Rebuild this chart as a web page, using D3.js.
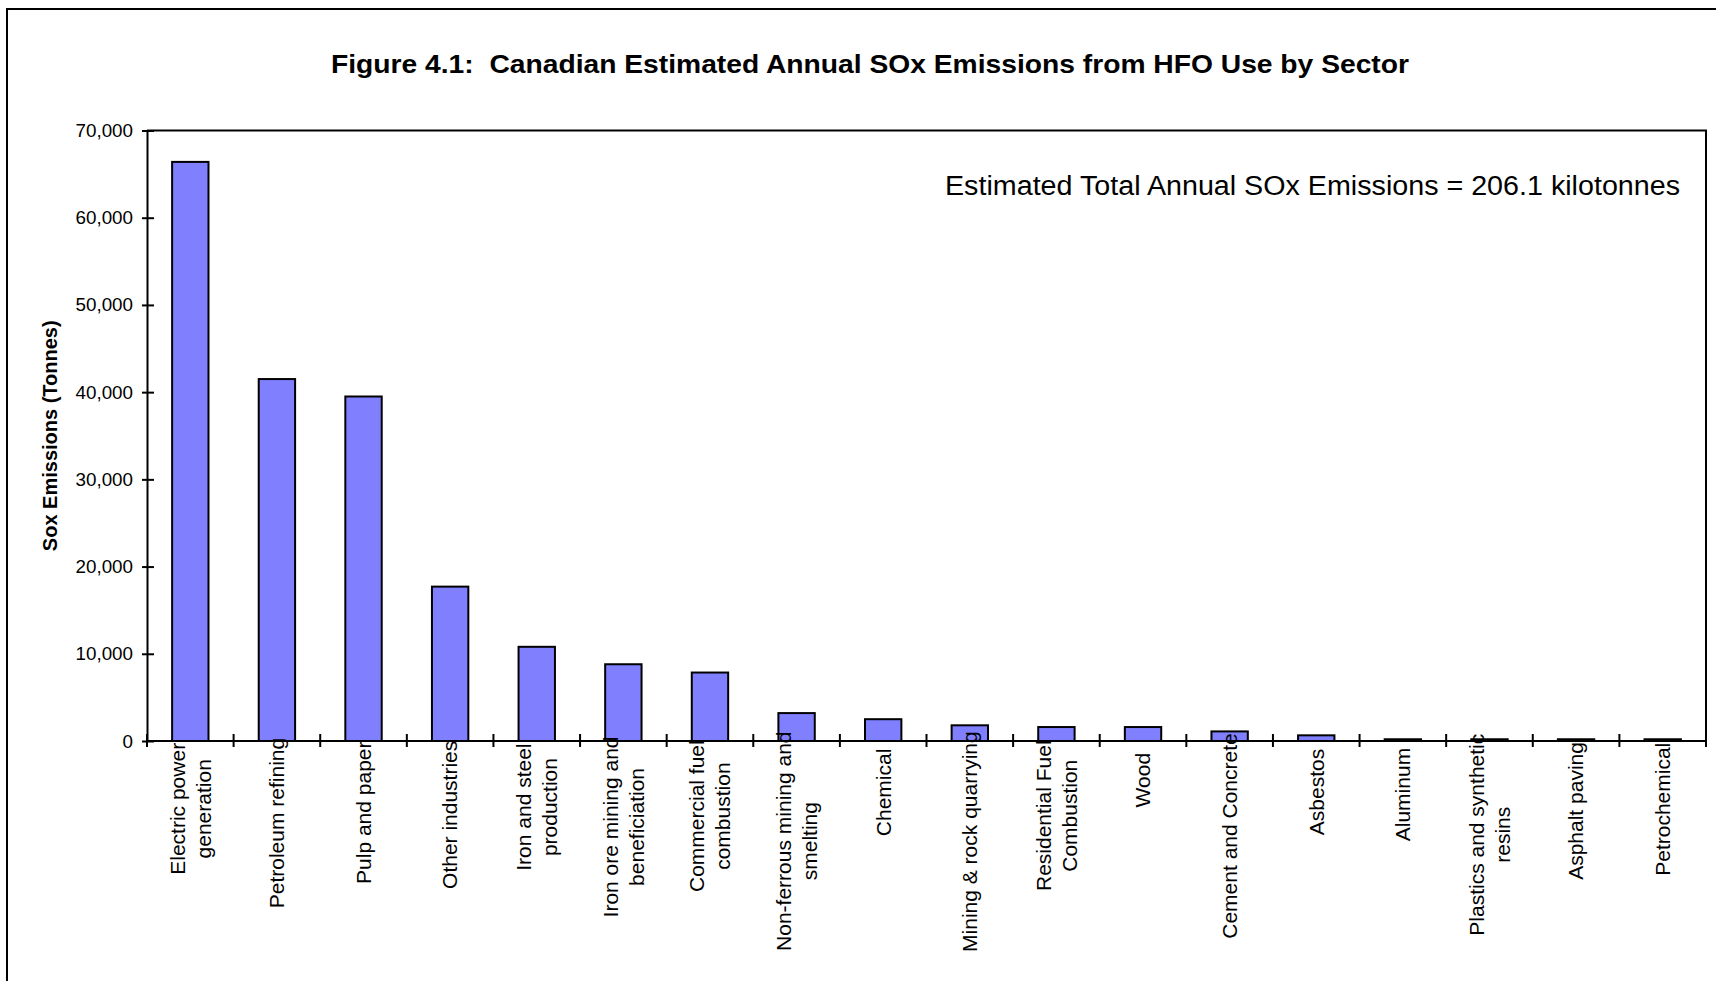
<!DOCTYPE html>
<html>
<head>
<meta charset="utf-8">
<script src="https://cdn.jsdelivr.net/npm/d3@7"></script>
<style>
  html, body { margin: 0; padding: 0; background: #fff; }
  svg { display: block; font-family: "Liberation Sans", Arial, sans-serif; }
  .pre { white-space: pre; }
</style>
</head>
<body>
<svg id="chart" width="1716" height="981"></svg>
<script>
// ---- data ----
const categories = [
  "Electric power generation", "Petroleum refining", "Pulp and paper", "Other industries",
  "Iron and steel production", "Iron ore mining and beneficiation", "Commercial fuel combustion",
  "Non-ferrous mining and smelting", "Chemical", "Mining & rock quarrying",
  "Residential Fuel Combustion", "Wood", "Cement and Concrete", "Asbestos", "Aluminum",
  "Plastics and synthetic resins", "Asphalt paving", "Petrochemical"
];
const categoryLines = [
  ["Electric power", "generation"], ["Petroleum refining"], ["Pulp and paper"], ["Other industries"],
  ["Iron and steel", "production"], ["Iron ore mining and", "beneficiation"], ["Commercial fuel", "combustion"],
  ["Non-ferrous mining and", "smelting"], ["Chemical"], ["Mining & rock quarrying"],
  ["Residential Fuel", "Combustion"], ["Wood"], ["Cement and Concrete"], ["Asbestos"], ["Aluminum"],
  ["Plastics and synthetic", "resins"], ["Asphalt paving"], ["Petrochemical"]
];
const emissions = [66400, 41500, 39500, 17700, 10800, 8800, 7850, 3200, 2500, 1800,
                   1600, 1600, 1100, 650, 200, 200, 200, 200];
const yTicks = [0, 10000, 20000, 30000, 40000, 50000, 60000, 70000];
const titleText = "Figure 4.1:  Canadian Estimated Annual SOx Emissions from HFO Use by Sector";
const yTitle = "Sox Emissions (Tonnes)";
const noteText = "Estimated Total Annual SOx Emissions = 206.1 kilotonnes";

// ---- layout ----
const svg = d3.select("#chart");
const plot = { left: 147, right: 1706, top: 130.5, bottom: 741 };

// outer border
svg.append("rect")
  .attr("x", 7).attr("y", 9).attr("width", 1730).attr("height", 1000)
  .attr("fill", "none").attr("stroke", "#000").attr("stroke-width", 2);

// title
svg.append("text")
  .attr("class", "pre")
  .attr("x", 870).attr("y", 73)
  .attr("text-anchor", "middle")
  .attr("font-size", 26).attr("font-weight", "bold")
  .attr("textLength", 1078).attr("lengthAdjust", "spacingAndGlyphs")
  .text(titleText);

const x = d3.scaleBand()
  .domain(categories)
  .range([plot.left, plot.right])
  .paddingInner(0.58).paddingOuter(0.29);
const y = d3.scaleLinear().domain([0, 70000]).range([plot.bottom, plot.top]);

// plot frame (top & right)
svg.append("path")
  .attr("d", `M${plot.left},${y(70000)}H${plot.right}V${plot.bottom}`)
  .attr("fill", "none").attr("stroke", "#000").attr("stroke-width", 2);

// bars
svg.append("g").selectAll("rect")
  .data(emissions)
  .join("rect")
  .attr("x", (d, i) => x(categories[i]))
  .attr("width", x.bandwidth())
  .attr("y", d => y(d))
  .attr("height", d => y(0) - y(d))
  .attr("fill", "#8080FF")
  .attr("stroke", "#000").attr("stroke-width", 2);

// y axis
const yAxis = svg.append("g")
  .attr("transform", `translate(${plot.left},0)`)
  .call(d3.axisLeft(y).tickValues(yTicks).tickFormat(d3.format(",")).tickSizeOuter(0));
yAxis.select(".domain").attr("stroke-width", 2);
yAxis.selectAll(".tick line").attr("x1", -5).attr("x2", 7).attr("stroke-width", 2);
yAxis.selectAll(".tick text")
  .attr("x", -14).attr("font-size", 18.8).attr("font-family", "Liberation Sans, Arial, sans-serif")
  .attr("fill", "#000");

// y axis title
svg.append("text")
  .attr("transform", `translate(57,${(plot.top + plot.bottom) / 2}) rotate(-90)`)
  .attr("text-anchor", "middle")
  .attr("font-size", 20).attr("font-weight", "bold")
  .text(yTitle);

// x axis line + cross ticks between categories
const xAxisG = svg.append("g");
xAxisG.append("line")
  .attr("x1", plot.left).attr("x2", plot.right)
  .attr("y1", y(0)).attr("y2", y(0))
  .attr("stroke", "#000").attr("stroke-width", 2);
const boundaries = categories.map(c => x(c) + x.bandwidth() / 2 - x.step() / 2)
  .concat([x(categories[categories.length - 1]) + x.bandwidth() / 2 + x.step() / 2]);
xAxisG.selectAll("line.tick")
  .data(boundaries)
  .join("line").attr("class", "tick")
  .attr("x1", d => d).attr("x2", d => d)
  .attr("y1", y(0) - 7).attr("y2", y(0) + 6)
  .attr("stroke", "#000").attr("stroke-width", 2);

// category labels (rotated, multi-line, centred lines)
const fs = 21, lineH = 26;
const labelG = svg.append("g").attr("font-size", fs);
categoryLines.forEach((lines, i) => {
  const cx = x(categories[i]) + x.bandwidth() / 2;
  const g = labelG.append("g");
  const texts = lines.map((ln, j) =>
    g.append("text")
      .attr("text-anchor", "middle")
      .attr("y", (j - (lines.length - 1) / 2) * lineH)
      .attr("dy", "0.35em")
      .text(ln));
  const maxLen = d3.max(texts, t => t.node().getComputedTextLength());
  const cy = y(0) + 19 + 0.37 * maxLen;
  g.attr("transform", `translate(${cx},${cy}) rotate(-90)`);
});

// annotation
svg.append("text")
  .attr("x", 1680).attr("y", 195)
  .attr("text-anchor", "end")
  .attr("font-size", 27)
  .attr("textLength", 735).attr("lengthAdjust", "spacingAndGlyphs")
  .text(noteText);
</script>
</body>
</html>
